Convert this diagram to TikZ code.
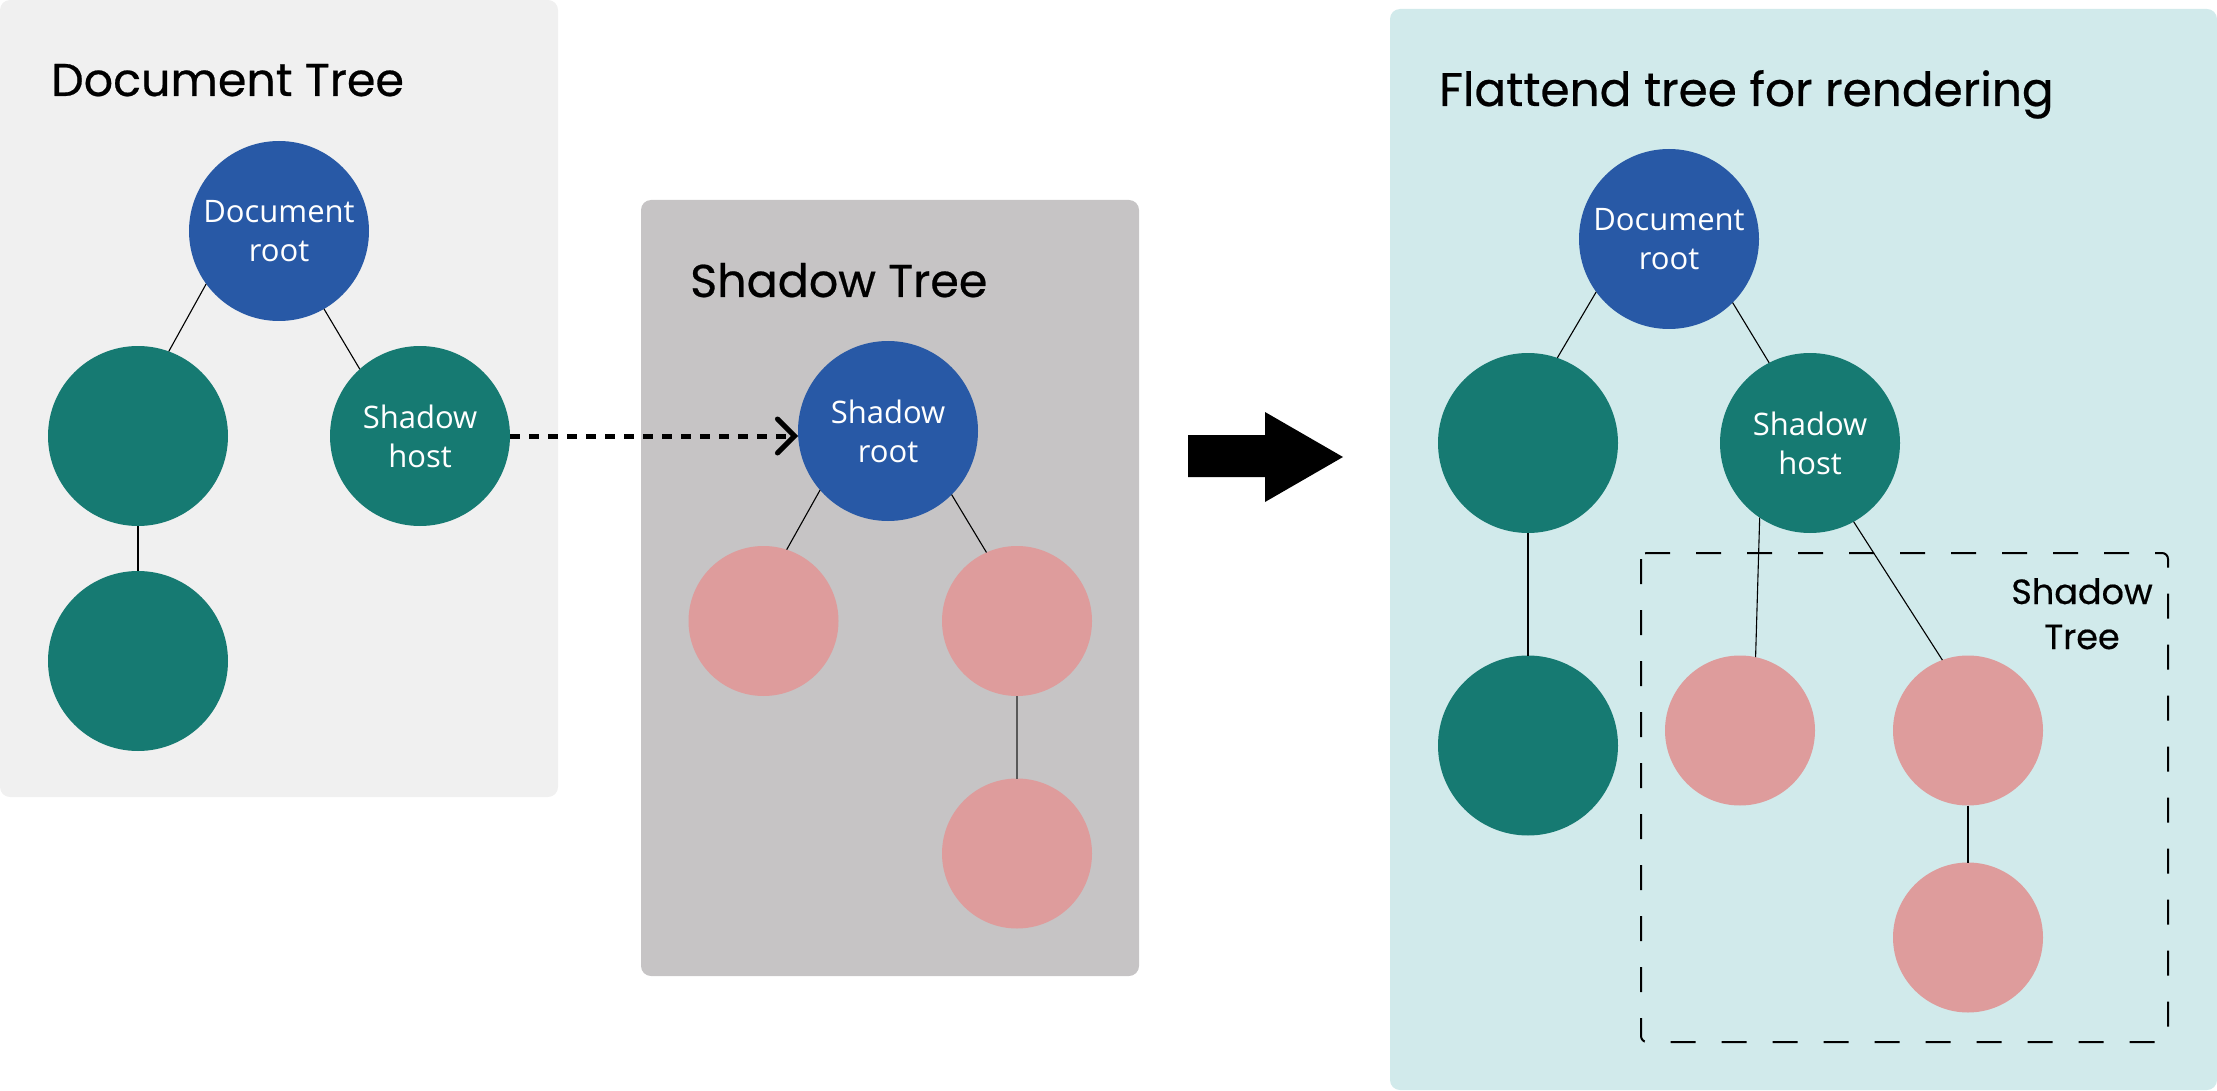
\documentclass[tikz,border=0pt]{standalone}
\usepackage{fontspec}
\setmainfont{Open Sans}
\newfontfamily\titlefont{Poppins}[FakeBold=0.5]
\newfontfamily\labelfont{Open Sans}
\usetikzlibrary{arrows.meta}
\definecolor{nblue}{HTML}{2859A6}
\definecolor{ngreen}{HTML}{167A72}
\definecolor{npink}{HTML}{DE9C9C}
\definecolor{bgone}{HTML}{F0F0F0}
\definecolor{bgtwo}{HTML}{C6C4C5}
\definecolor{bgthree}{HTML}{D1EAEB}
\tikzset{
  panel/.style={rounded corners=10pt, draw=none},
  bignode/.style={circle, minimum size=180pt, inner sep=0pt, outer sep=0pt, draw=none,
    text=white, align=center, font=\labelfont\fontsize{31}{39}\selectfont},
  bluenode/.style={bignode, fill=nblue},
  greennode/.style={bignode, fill=ngreen},
  pinknode/.style={circle, minimum size=150pt, inner sep=0pt, outer sep=0pt, draw=none, fill=npink},
  edge/.style={draw=black, line width=1.1pt},
  title/.style={anchor=base west, inner sep=0pt, font=\titlefont\fontsize{46}{55}\selectfont},
}
\begin{document}
\begin{tikzpicture}[x=1pt,y=-1pt]
\useasboundingbox (0,0) rectangle (2217,1091);
% panels
\fill[panel, bgone] (0,0) rectangle (558,797);
\fill[panel, bgtwo] (641,200) rectangle (1139,976);
\fill[panel, bgthree] (1390,9) rectangle (2217,1090);

% titles
\node[title] (t1) at (51,96) {Document Tree};
\node[title] (t2) at (690,297) {Shadow Tree};
\node[title, font=\titlefont\fontsize{47}{55}\selectfont] (t3) at (1439,106) {Flattend tree for rendering};

% ---- Document tree
\node[bluenode] (dr) at (279,231) {Document\\root};
\node[greennode] (dl) at (138,436) {};
\node[greennode] (dh) at (420,436) {Shadow\\host};
\node[greennode] (db) at (138,661) {};
\draw[edge] (dr.216.4) -- (dl.70.6);
\draw[edge] (dr.-60) -- (dh.132.3);
\draw[edge] (dl.south) -- (db.north);

% ---- Shadow tree
\node[bluenode] (sr) at (888,431) {Shadow\\root};
\node[pinknode] (sl) at (763.5,621) {};
\node[pinknode] (sa) at (1017,621) {};
\node[pinknode] (sb) at (1017,853.5) {};
\draw[edge] (sr.221) -- (sl.72.6);
\draw[edge] (sr.-45.5) -- (sa.114.8);
\draw[draw=black!65, line width=2pt] (sa.south) -- (sb.north);

% dashed arrow
\draw[line width=5pt, dash pattern=on 10pt off 9pt,
  -{Straight Barb[length=17pt, width=34pt, line width=5pt, line cap=round]}]
  (dh.east) -- (dh.east -| sr.west);

% big arrow
\fill[black] (1188,435) -- (1265,435) -- (1265,412) -- (1343,457) -- (1265,502) -- (1265,477) -- (1188,477) -- cycle;

% ---- Flattened tree
\node[bluenode] (fr) at (1669,239) {Document\\root};
\node[greennode] (fl) at (1528,443) {};
\node[greennode] (fh) at (1810,443) {Shadow\\host};
\node[greennode] (fb) at (1528,745.5) {};
\node[pinknode] (fpl) at (1740,730.5) {};
\node[pinknode] (fpa) at (1968,730.5) {};
\node[pinknode] (fpb) at (1968,937.5) {};
\draw[edge] (fr.216.4) -- (fl.71);
\draw[edge] (fr.-45.4) -- (fh.117.7);
\draw[edge] (fl.south) -- (fb.north);
\draw[edge] (fh.236.8) -- (fpl.78.8);
\draw[edge] (fh.-61.2) -- (fpa.110);
\draw[edge] (fpa.south) -- (fpb.north);

% dashed shadow tree box
\draw[line width=2pt, dash pattern=on 25pt off 26pt, rounded corners=6pt] (1641,553) rectangle (2168,1042);
\node[anchor=base, align=center, inner sep=0pt, font=\titlefont\fontsize{35}{45}\selectfont] (stl) at (2082,649) {Shadow\\Tree};
\end{tikzpicture}
\end{document}
